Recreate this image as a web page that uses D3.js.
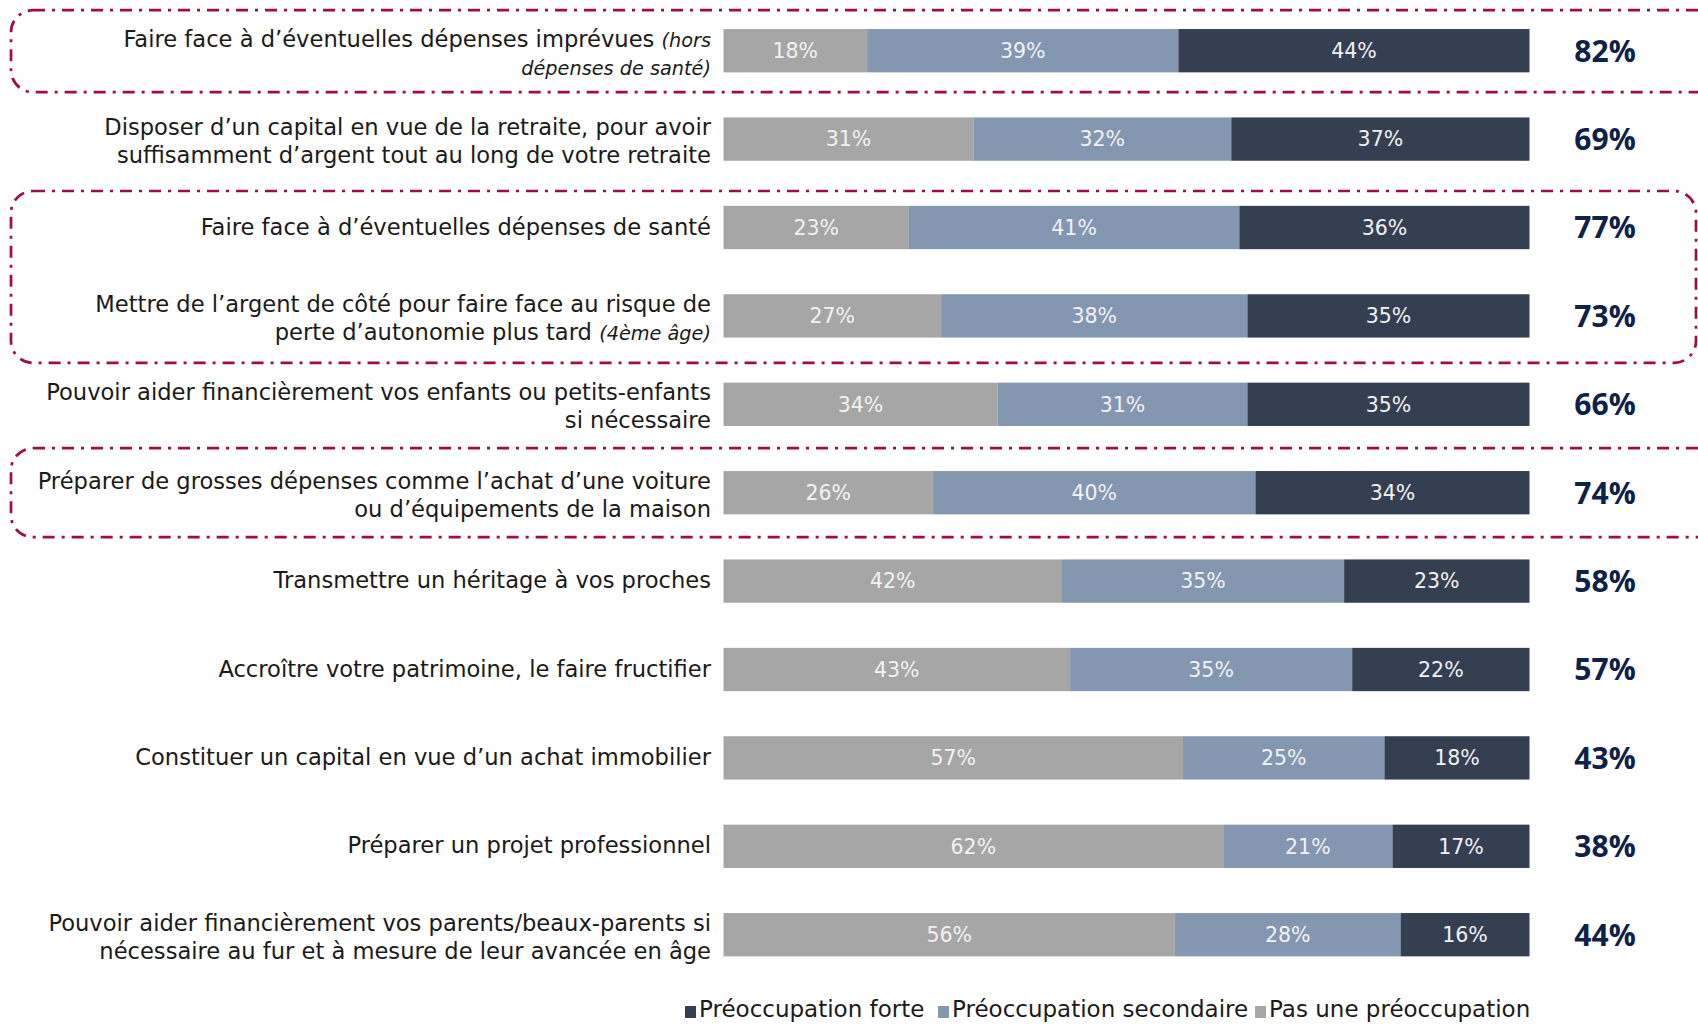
<!DOCTYPE html>
<html><head><meta charset="utf-8">
<script src="https://cdn.jsdelivr.net/npm/d3@7"></script>
<style>body{margin:0;background:#fff}svg{display:block}</style>
</head><body>
<svg id="chart" width="1698" height="1024"></svg>
<script>
// ---- data ----
const categories = [
  "Faire face à d’éventuelles dépenses imprévues (hors dépenses de santé)",
  "Disposer d’un capital en vue de la retraite, pour avoir suffisamment d’argent tout au long de votre retraite",
  "Faire face à d’éventuelles dépenses de santé",
  "Mettre de l’argent de côté pour faire face au risque de perte d’autonomie plus tard (4ème âge)",
  "Pouvoir aider financièrement vos enfants ou petits-enfants si nécessaire",
  "Préparer de grosses dépenses comme l’achat d’une voiture ou d’équipements de la maison",
  "Transmettre un héritage à vos proches",
  "Accroître votre patrimoine, le faire fructifier",
  "Constituer un capital en vue d’un achat immobilier",
  "Préparer un projet professionnel",
  "Pouvoir aider financièrement vos parents/beaux-parents si nécessaire au fur et à mesure de leur avancée en âge"
];
// label lines: each line is a list of [text, italic]
const labelLines = [
  [[["Faire face à d’éventuelles dépenses imprévues ", false], ["(hors", true]], [["dépenses de santé)", true]]],
  [[["Disposer d’un capital en vue de la retraite, pour avoir", false]], [["suffisamment d’argent tout au long de votre retraite", false]]],
  [[["Faire face à d’éventuelles dépenses de santé", false]]],
  [[["Mettre de l’argent de côté pour faire face au risque de", false]], [["perte d’autonomie plus tard ", false], ["(4ème âge)", true]]],
  [[["Pouvoir aider financièrement vos enfants ou petits-enfants", false]], [["si nécessaire", false]]],
  [[["Préparer de grosses dépenses comme l’achat d’une voiture", false]], [["ou d’équipements de la maison", false]]],
  [[["Transmettre un héritage à vos proches", false]]],
  [[["Accroître votre patrimoine, le faire fructifier", false]]],
  [[["Constituer un capital en vue d’un achat immobilier", false]]],
  [[["Préparer un projet professionnel", false]]],
  [[["Pouvoir aider financièrement vos parents/beaux-parents si", false]], [["nécessaire au fur et à mesure de leur avancée en âge", false]]]
];
const pasUne      = [18, 31, 23, 27, 34, 26, 42, 43, 57, 62, 56];
const secondaire  = [39, 32, 41, 38, 31, 40, 35, 35, 25, 21, 28];
const forte       = [44, 37, 36, 35, 35, 34, 23, 22, 18, 17, 16];
const totals      = [82, 69, 77, 73, 66, 74, 58, 57, 43, 38, 44];
const seriesNames = ["Pas une préoccupation", "Préoccupation secondaire", "Préoccupation forte"];
const legendOrder = ["Préoccupation forte", "Préoccupation secondaire", "Pas une préoccupation"];
const highlightGroups = [[0, 0], [2, 3], [5, 5]];

// ---- setup ----
const FONT = "'DejaVu Sans', sans-serif";
const BOLDFONT = "'Open Sans', 'DejaVu Sans', sans-serif";
const colors = d3.scaleOrdinal().domain(seriesNames).range(["#a6a6a6", "#8497b0", "#343f52"]);
const svg = d3.select("#chart");

const rows = categories.map((c, i) => ({
  cat: c,
  "Pas une préoccupation": pasUne[i],
  "Préoccupation secondaire": secondaire[i],
  "Préoccupation forte": forte[i]
}));

const x = d3.scaleLinear().domain([0, 1]).range([723.5, 1529.5]);
const y = d3.scaleBand().domain(categories).range([6.5, 6.5 + 11 * 88.4]).paddingInner(0.51).paddingOuter(0.255);

const stack = d3.stack().keys(seriesNames).offset(d3.stackOffsetExpand);
const stacked = stack(rows);

// highlight boxes (dash-dot rounded frames)
const boxPad = [[-40.5, 41.5], [-36.5, 47], [-44.5, 44.5]];
const boxRight = [1720, 1696, 1720];
const cy = c => y(c) + y.bandwidth() / 2;
svg.append("g").selectAll("rect").data(highlightGroups).join("rect")
  .attr("x", 11)
  .attr("y", (d, i) => cy(categories[d[0]]) + boxPad[i][0])
  .attr("width", (d, i) => boxRight[i] - 11)
  .attr("height", (d, i) => cy(categories[d[1]]) + boxPad[i][1] - (cy(categories[d[0]]) + boxPad[i][0]))
  .attr("rx", 22).attr("ry", 22)
  .attr("fill", "none")
  .attr("stroke", "#9e0d4b")
  .attr("stroke-width", 2.7)
  .attr("stroke-dasharray", "12,7,3,7");

// bars
const layer = svg.append("g").selectAll("g").data(stacked).join("g")
  .attr("fill", d => colors(d.key));
layer.selectAll("rect").data(d => d.map(v => ({v, key: d.key}))).join("rect")
  .attr("x", d => x(d.v[0]))
  .attr("width", d => x(d.v[1]) - x(d.v[0]))
  .attr("y", d => y(d.v.data.cat))
  .attr("height", y.bandwidth());

// segment labels
const lab = svg.append("g").selectAll("g").data(stacked).join("g");
lab.selectAll("text").data(d => d.map(v => ({v, key: d.key}))).join("text")
  .attr("x", d => (x(d.v[0]) + x(d.v[1])) / 2)
  .attr("y", d => cy(d.v.data.cat))
  .attr("dy", "0.36em")
  .attr("text-anchor", "middle")
  .attr("font-family", FONT)
  .attr("font-size", 20.5)
  .attr("fill", "#f2f2f2")
  .text(d => d.v.data[d.key] + "%");

// totals
svg.append("g").selectAll("text").data(categories).join("text")
  .attr("x", 1605)
  .attr("y", d => cy(d))
  .attr("dy", "0.36em")
  .attr("text-anchor", "middle")
  .attr("font-family", BOLDFONT)
  .attr("font-weight", 700)
  .attr("font-size", 30)
  .attr("fill", "#0e2148")
  .text((d, i) => totals[i] + "%");

// category labels
const labelG = svg.append("g");
categories.forEach((c, i) => {
  const lines = labelLines[i];
  const lh = 28;
  lines.forEach((parts, li) => {
    const ly = cy(c) + (li - (lines.length - 1) / 2) * lh + (lines.length > 1 ? 2 : -1);
    const t = labelG.append("text")
      .attr("x", 711)
      .attr("y", ly)
      .attr("dy", "0.36em")
      .attr("text-anchor", "end")
      .attr("font-family", FONT)
      .attr("font-size", 22.6)
      .attr("fill", "#1a1a1a");
    parts.forEach(([txt, it]) => {
      t.append("tspan")
        .attr("font-style", it ? "italic" : "normal")
        .attr("font-size", it ? 19.3 : 22.6)
        .text(txt);
    });
  });
});

// legend
const legend = svg.append("g").attr("font-family", FONT).attr("font-size", 23).attr("fill", "#1a1a1a");
const legendX = [685, 938, 1255];
legendOrder.forEach((k, i) => {
  legend.append("rect").attr("x", legendX[i]).attr("y", 1006).attr("width", 11).attr("height", 12).attr("fill", colors(k));
  legend.append("text").attr("x", legendX[i] + 14).attr("y", 1017).text(k);
});
</script>
</body></html>
